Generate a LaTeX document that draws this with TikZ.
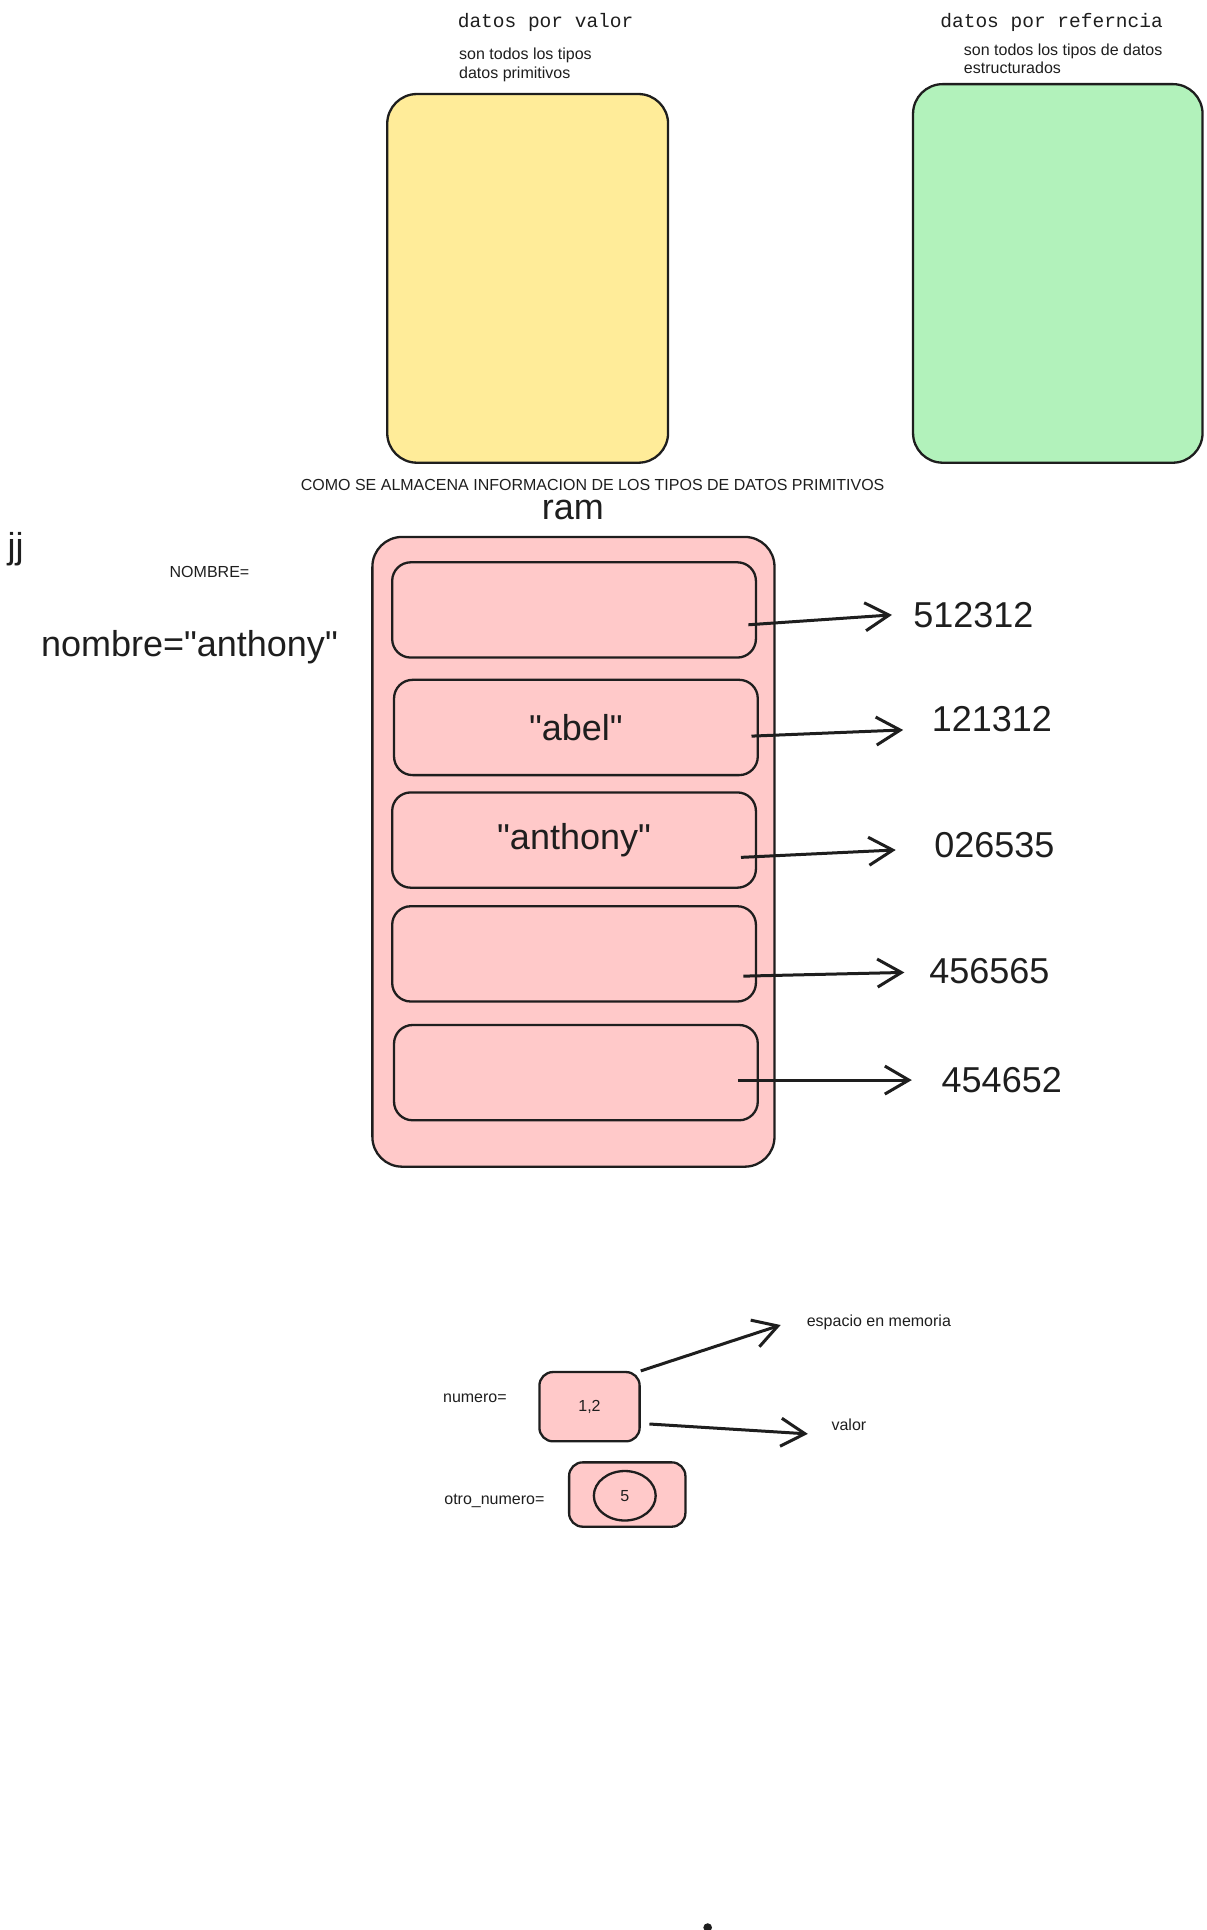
\documentclass[tikz,border=0pt]{standalone}
\usepackage{fontspec}
\setmainfont{Liberation Sans}[Ligatures=TeXOff]
\newfontfamily\monofont{Liberation Mono}
\usetikzlibrary{arrows.meta,shapes.geometric}
\newlength\px
\setlength\px{1.237pt}
\definecolor{ink}{HTML}{1E1E1E}
\definecolor{yellowbox}{HTML}{FFEC99}
\definecolor{greenbox}{HTML}{B2F2BB}
\definecolor{pinkbox}{HTML}{FFC9C9}
\begin{document}
\begin{tikzpicture}[x=1.237pt,y=-1.237pt,
    box/.style={draw=ink, line width=2.3pt, rounded corners=24\px, inner sep=0pt},
    cell/.style={box, fill=pinkbox, rounded corners=15\px, minimum width=294\px, minimum height=77\px},
    titletxt/.style={text=ink, inner sep=0pt, font=\monofont\fontsize{19.5}{22}\selectfont},
    smalltxt/.style={text=ink, inner sep=0pt, align=left, font=\fontsize{16}{18.5}\selectfont},
    bigtxt/.style={text=ink, inner sep=0pt, font=\fontsize{36}{40}\selectfont},
    arr/.style={draw=ink, line width=3pt, -{Straight Barb[length=24pt,width=28pt,line width=3pt]}}]
  \useasboundingbox (0,0) rectangle (975,1560);

	% Top boxes
  \node[titletxt] (tvalor) at (441,18) {datos por valor};
  \node[smalltxt, anchor=west] (dvalor) at (371,52.5) {son todos los tipos\\datos primitivos};
  \node[box, fill=yellowbox, minimum width=227\px, minimum height=298\px] (valor) at (426.5,225) {};

  \node[titletxt] (tref) at (850,18) {datos por referncia};
  \node[smalltxt, anchor=west] (dref) at (779,47.5) {son todos los tipos de datos\\estructurados};
  \node[box, fill=greenbox, minimum width=234\px, minimum height=306\px] (ref) at (855,221) {};

	% Ram
  \node[smalltxt] (como) at (479,392) {COMO SE ALMACENA INFORMACION DE LOS TIPOS DE DATOS PRIMITIVOS};
  \node[bigtxt] (ramlbl) at (463,412) {ram};
  \node[bigtxt, anchor=west] (jj) at (6,444) {jj};
  \node[smalltxt, anchor=west] (nombrelbl) at (137,462) {NOMBRE=};
  \node[bigtxt, anchor=west] (nombre) at (33,523) {nombre="anthony"};

  \node[box, fill=pinkbox, minimum width=325\px, minimum height=509\px] (ram) at (463.5,688.5) {};
  \node[cell] (c1) at (464,493) {};
  \node[cell, font=\fontsize{36}{40}\selectfont, text=ink] (c2) at (465.5,588) {"abel"};
  \node[cell, font=\fontsize{36}{40}\selectfont, text=ink] (c3) at (464,679) {"anthony"};
  \node[cell] (c4) at (464,771) {};
  \node[cell] (c5) at (465.5,867) {};

	% Addresses
  \node[bigtxt, anchor=west] (a1) at (738,497) {512312};
  \node[bigtxt, anchor=west] (a2) at (753,581) {121312};
  \node[bigtxt, anchor=west] (a3) at (755,683) {026535};
  \node[bigtxt, anchor=west] (a4) at (751,785) {456565};
  \node[bigtxt, anchor=west] (a5) at (761,873) {454652};

  \draw[arr] ([xshift=-7\px,yshift=-12\px]c1.east) -- ([xshift=-17\px]a1.west);
  \draw[arr] ([xshift=-6\px,yshift=-7\px]c2.east) -- ([xshift=-23\px,yshift=-9\px]a2.west);
  \draw[arr] ([xshift=-13\px,yshift=-14\px]c3.east) -- ([xshift=-31\px,yshift=-4\px]a3.west);
  \draw[arr] ([xshift=-11\px,yshift=-18\px]c4.east) -- ([xshift=-20\px,yshift=-1\px]a4.west);
  \draw[arr] ([xshift=-17\px,yshift=-6\px]c5.east) -- ([xshift=-24\px]a5.west);

	% Variables
  \node[smalltxt, anchor=west] (numlbl) at (358,1130) {numero=};
  \node[box, fill=pinkbox, rounded corners=11\px, minimum width=81\px, minimum height=56\px, font=\fontsize{16}{18}\selectfont, text=ink] (num) at (476.5,1137) {1,2};
  \node[smalltxt, anchor=west] (esp) at (652,1069) {espacio en memoria};
  \node[smalltxt, anchor=west] (val) at (672,1152) {valor};
  \draw[arr] (num.north east) -- ([xshift=-21\px,yshift=-2\px]esp.west);
  \draw[arr] ([xshift=7\px,yshift=-14\px]num.east) -- ([xshift=-19\px,yshift=-7\px]val.west);

  \node[smalltxt, anchor=west] (otrolbl) at (359,1213) {otro\_numero=};
  \node[box, fill=pinkbox, rounded corners=11\px, minimum width=94\px, minimum height=52\px] (otro) at (507,1208) {};
  \node[draw=ink, line width=2.3pt, ellipse, inner sep=0pt, minimum width=50\px, minimum height=40\px, text=ink, font=\fontsize{16}{18}\selectfont] (cinco) at (505,1209) {5};

	% Dot
  \fill[ink] (572,1558) circle (3.5\px);
\end{tikzpicture}
\end{document}
